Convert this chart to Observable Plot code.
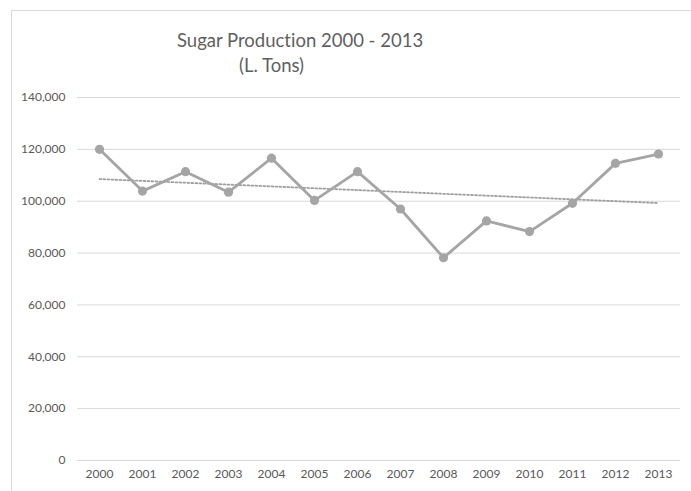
<!DOCTYPE html>
<html>
<head>
<meta charset="utf-8">
<script src="https://cdn.jsdelivr.net/npm/d3@7"></script>
<script src="https://cdn.jsdelivr.net/npm/@observablehq/plot@0.6"></script>
<style>
  html, body { margin: 0; padding: 0; background: #fff; }
  #page { position: relative; width: 691px; height: 491px; overflow: hidden; background: #fff; }
  .caption { position: absolute; top: -41px; font-family: "Liberation Serif", "Times New Roman", serif;
             font-weight: bold; font-size: 33.5px; line-height: 1; color: #000; white-space: nowrap; }
  #frame { position: absolute; left: 11px; top: 10px; width: 760px; height: 560px;
           border: 1px solid #d9d9d9; box-sizing: border-box; }
  .title { position: absolute; font-family: Lato, "Open Sans", sans-serif; font-weight: 400;
           font-variant-ligatures: none; color: #5f5f5f; white-space: nowrap; line-height: 1; font-size: 18.5px; }
  #chart { position: absolute; left: 0; top: 0; }
</style>
</head>
<body>
<div id="page">
  <div class="caption" style="left:8px">Figure</div>
  <div class="caption" style="left:131.5px">(g) Sugar production (Lakh Tons)</div>
  <div id="frame"></div>
  <div class="title" style="left:177px; top:31px">Sugar Production 2000 - 2013</div>
  <div class="title" style="left:239px; top:56px">(L. Tons)</div>
  <div id="chart"></div>
</div>
<script>
// Annual sugar production, lakh tons
const years = [2000, 2001, 2002, 2003, 2004, 2005, 2006, 2007, 2008, 2009, 2010, 2011, 2012, 2013];
const production = [120000, 103900, 111400, 103500, 116600, 100300, 111400, 97000, 78200, 92400, 88300, 99200, 114600, 118200];
const yTicks = [0, 20000, 40000, 60000, 80000, 100000, 120000, 140000];

const data = years.map((year, i) => ({year, value: production[i]}));

const lineColor = "#a5a5a5";

const chart = Plot.plot({
  width: 691,
  height: 491,
  marginLeft: 77,
  marginRight: 11,
  marginTop: 97,
  marginBottom: 31,
  style: {fontFamily: "Lato, 'Open Sans', sans-serif", fontSize: "12px", color: "#595959", background: "transparent", overflow: "visible"},
  x: {type: "point", domain: years, padding: 0.5, label: null, tickSize: 0, tickPadding: 9, tickFormat: d => String(d)},
  y: {domain: [0, 140000], ticks: yTicks, tickFormat: d3.format(","), label: null, tickSize: 0, tickPadding: 12},
  marks: [
    Plot.gridY(yTicks, {stroke: "#d9d9d9", strokeOpacity: 1, strokeWidth: 1}),
    // dotted linear trend
    Plot.linearRegressionY(data, {x: "year", y: "value", ci: 0, stroke: "#9e9e9e", strokeWidth: 1.8, strokeDasharray: "1.8 2.2"}),
    Plot.line(data, {x: "year", y: "value", stroke: lineColor, strokeWidth: 2.8}),
    Plot.dot(data, {x: "year", y: "value", r: 4.6, fill: lineColor, stroke: "none"})
  ]
});

document.getElementById("chart").appendChild(chart);
</script>
</body>
</html>
